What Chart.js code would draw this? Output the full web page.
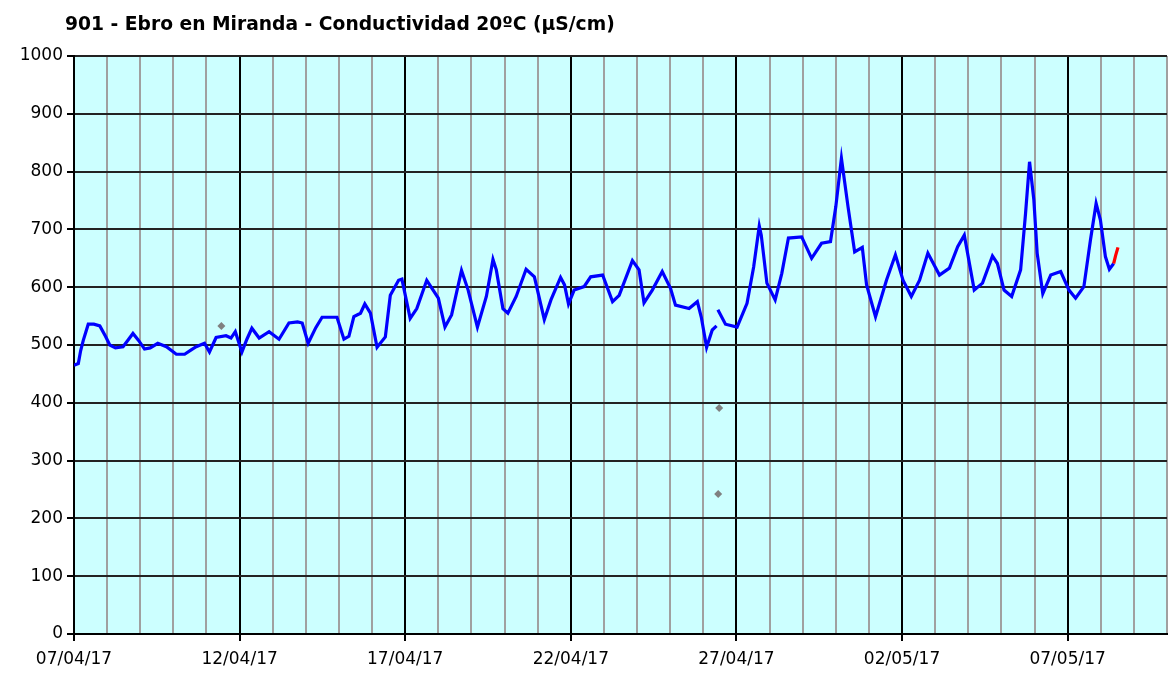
<!DOCTYPE html>
<html>
<head>
<meta charset="utf-8">
<script src="https://cdn.jsdelivr.net/npm/chart.js@4.4.1/dist/chart.umd.min.js"></script>
<style>
html,body{margin:0;padding:0;background:#fff;overflow:hidden;}
#wrap{width:1171px;height:673px;position:relative;overflow:hidden;}
canvas{display:block;}
</style>
</head>
<body>
<div id="wrap"><canvas id="c" width="1175" height="673"></canvas></div>
<script>
const chartTitle = "901 - Ebro en Miranda - Conductividad 20ºC (µS/cm)";
const xTickLabels = ["07/04/17","12/04/17","17/04/17","22/04/17","27/04/17","02/05/17","07/05/17"];
const yTickValues = [0,100,200,300,400,500,600,700,800,900,1000];
// days since 07/04/17 00:00
const blueDays = [0.00,0.13,0.20,0.28,0.43,0.60,0.78,0.95,1.08,1.25,1.48,1.65,1.78,1.95,2.13,2.30,2.53,2.79,3.09,3.34,3.55,3.69,3.94,4.09,4.29,4.59,4.74,4.87,5.07,5.22,5.37,5.59,5.89,6.19,6.49,6.75,6.89,7.07,7.30,7.49,7.94,8.15,8.30,8.45,8.65,8.78,8.95,9.15,9.40,9.55,9.80,9.90,10.15,10.35,10.65,11.00,11.20,11.40,11.70,11.90,12.18,12.45,12.65,12.75,12.95,13.10,13.35,13.65,13.90,14.20,14.40,14.69,14.81,14.93,15.10,15.40,15.60,15.96,16.26,16.46,16.86,17.06,17.21,17.46,17.76,18.01,18.16,18.57,18.82,18.94,19.10,19.27,19.40,19.42,19.44,19.67,20.02,20.32,20.52,20.69,20.75,20.92,21.17,21.37,21.57,21.97,22.27,22.57,22.84,23.00,23.17,23.37,23.57,23.80,23.93,24.20,24.53,24.80,25.03,25.28,25.53,25.78,26.13,26.43,26.68,26.88,27.18,27.43,27.73,27.88,28.08,28.31,28.58,28.73,28.85,28.98,29.08,29.25,29.49,29.79,30.04,30.24,30.49,30.69,30.86,30.99,31.14,31.26,31.39];
const blueValues = [465,468,490,508,536,536,533,515,500,495,497,510,520,508,493,495,503,497,484,484,492,497,503,488,513,516,512,523,488,510,529,512,523,510,538,540,538,503,530,548,548,510,515,549,555,571,555,496,514,586,612,614,546,563,612,581,531,552,629,595,531,584,648,630,563,555,584,631,618,544,578,617,604,571,595,601,618,621,575,586,646,630,573,595,627,598,569,563,575,548,496,526,533,null,561,536,531,572,635,706,690,607,578,624,685,687,650,676,679,739,823,739,661,669,604,549,612,656,612,584,612,659,621,633,670,690,595,607,654,641,595,584,630,728,817,751,659,589,621,627,595,581,601,682,745,716,653,631,641];
const redDays = [31.39,31.45,31.52];
const redValues = [641,655,669];
const greyDays = [4.45,19.48,19.45];
const greyValues = [533,391,242];

const toXY = (xs, ys) => xs.map((x,i)=>({x:x,y:ys[i]}));

const bgPlugin = {
  id:'bg',
  beforeDraw(chart){
    const {ctx, chartArea:a} = chart;
    ctx.save();
    ctx.fillStyle = '#ccffff';
    ctx.fillRect(a.left, a.top, a.right-a.left, a.bottom-a.top);
    ctx.restore();
  },
  afterDraw(chart){
    const ctx = chart.ctx;
    ctx.save();
    ctx.font = 'bold 18.7px "DejaVu Sans"';
    ctx.fillStyle = '#000';
    ctx.textBaseline = 'alphabetic';
    ctx.fillText(chartTitle, 65, 30);
    ctx.restore();
  }
};

Chart.defaults.font.family = '"DejaVu Sans", Verdana, sans-serif';
Chart.defaults.color = '#000';

new Chart(document.getElementById('c'), {
  type:'line',
  data:{
    datasets:[
      {data:toXY(blueDays, blueValues), borderColor:'#0000ff', borderWidth:3.2, pointRadius:0, tension:0, spanGaps:false, order:2},
      {data:toXY(redDays, redValues), borderColor:'#ff0000', borderWidth:3.2, pointRadius:0, tension:0, order:1},
      {data:toXY(greyDays, greyValues), showLine:false, pointStyle:'rectRot', pointRadius:4, pointBackgroundColor:'#808080', pointBorderColor:'#808080', borderWidth:0, order:3}
    ]
  },
  options:{
    responsive:false,
    animation:false,
    events:[],
    layout:{padding:{left:0,right:0,top:56,bottom:0}},
    plugins:{legend:{display:false}, title:{display:false}, tooltip:{enabled:false}},
    scales:{
      x:{
        type:'linear', min:0, max:33,
        afterFit(s){ s.height = 39; },
        border:{color:'#000', width:2},
        grid:{
          color:(c)=> (c.tick && c.tick.value % 5 === 0) ? '#000' : '#a0a0a0',
          lineWidth:2,
          drawTicks:true,
          tickLength:7,
          tickColor:(c)=> (c.tick && c.tick.value % 5 === 0) ? '#000' : 'rgba(0,0,0,0)',
          tickWidth:2
        },
        ticks:{
          stepSize:1, autoSkip:false, maxRotation:0, padding:8,
          font:{size:17},
          callback:(v)=> (v % 5 === 0) ? (xTickLabels[v/5] || '') : ''
        }
      },
      y:{
        min:0, max:1000,
        afterFit(s){ s.width = 74; },
        afterBuildTicks(s){ s.ticks = yTickValues.map(v=>({value:v})); },
        border:{color:'#000', width:2},
        grid:{color:'#222', lineWidth:2, tickLength:7, tickColor:'#000', tickWidth:2},
        ticks:{font:{size:17}, padding:4, callback:(v)=> String(v)}
      }
    }
  },
  plugins:[bgPlugin]
});
</script>
</body>
</html>
